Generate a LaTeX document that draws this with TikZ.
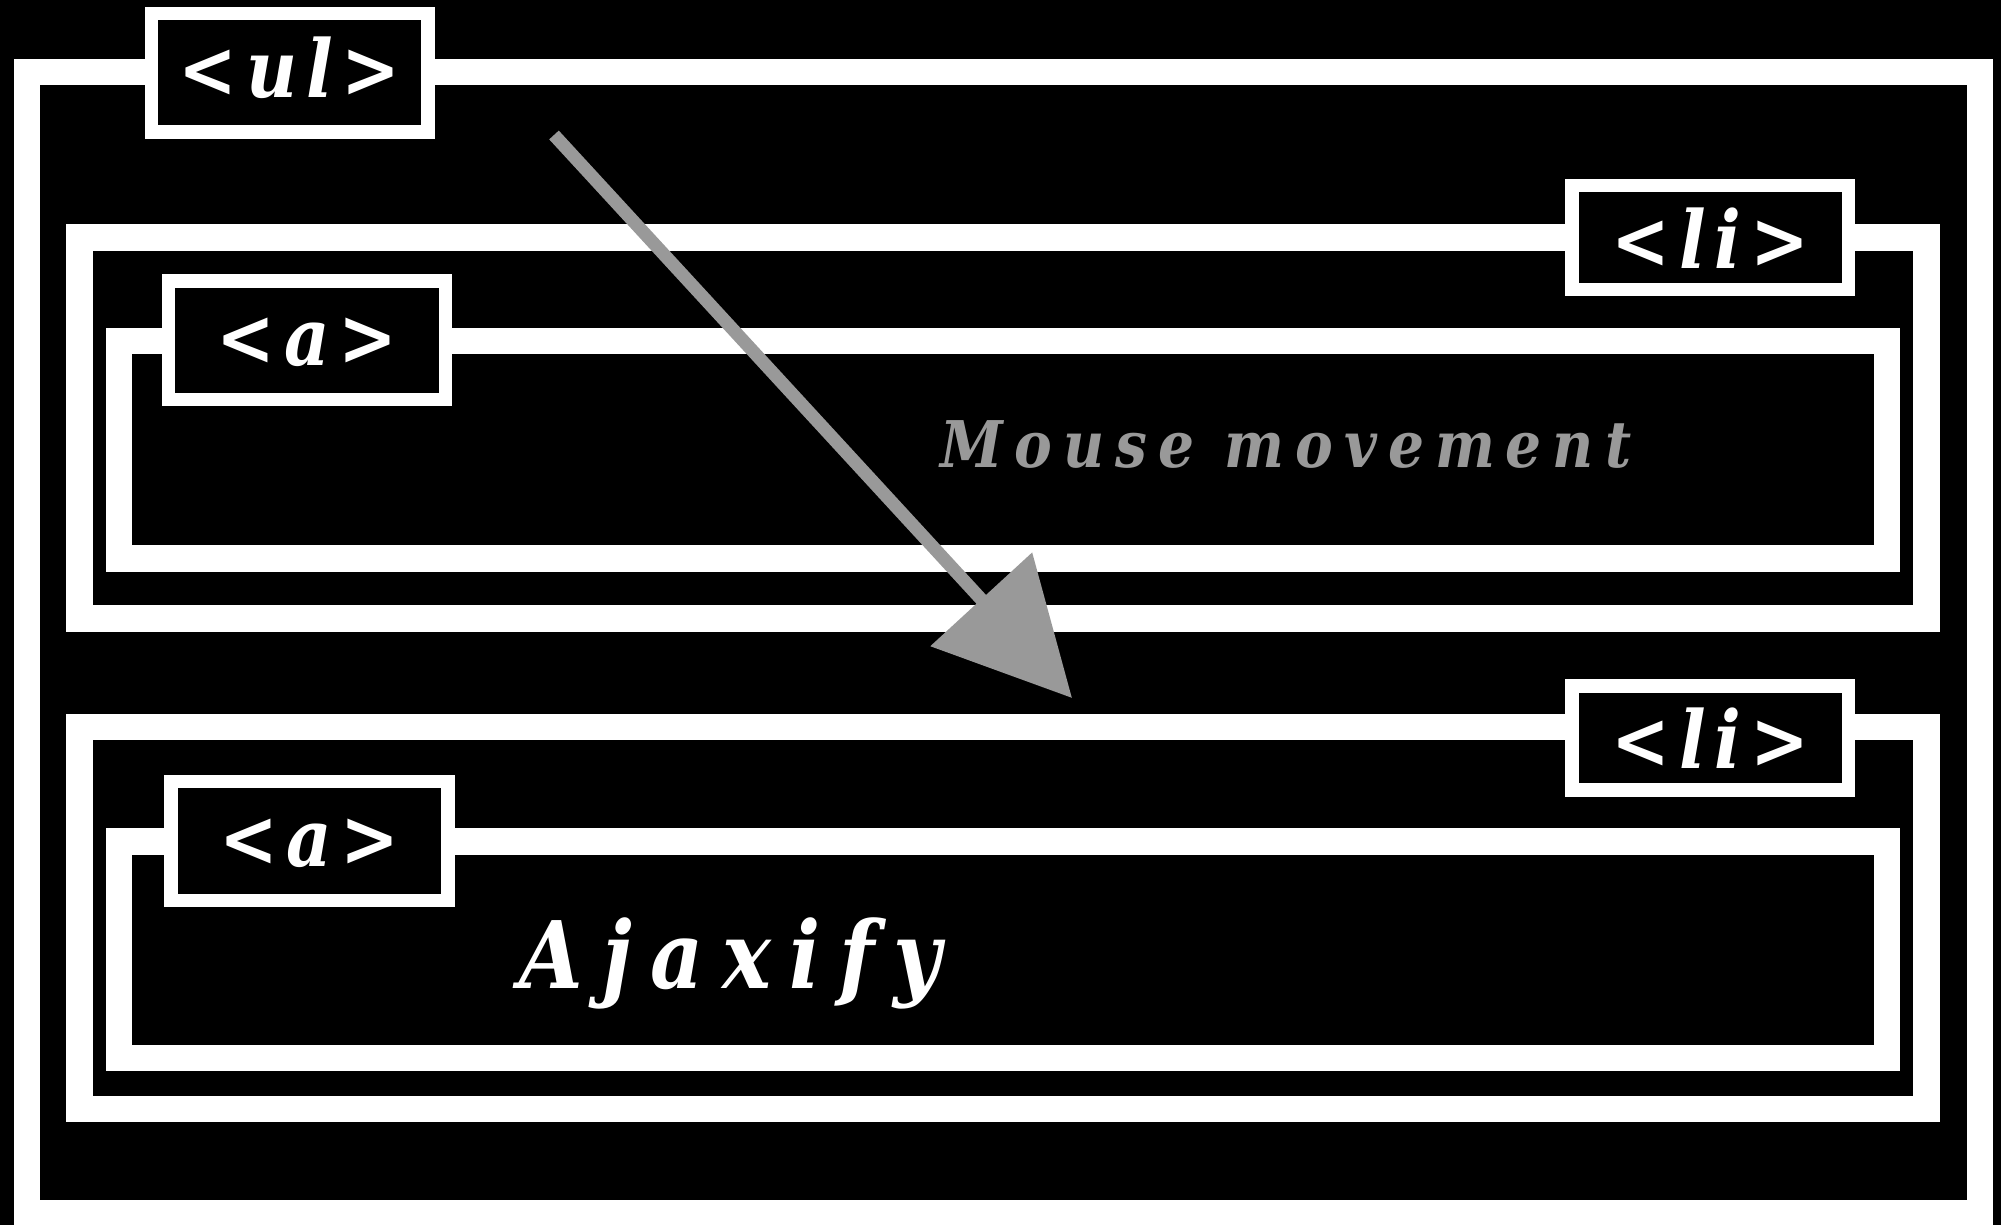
\documentclass[tikz,border=0pt]{standalone}
\usepackage{fontspec}
\usepackage{tikz}
\usetikzlibrary{arrows.meta}
\newfontfamily\tagfont{DejaVu Serif}[FakeStretch=0.88]
\definecolor{arrowgray}{RGB}{153,153,153}

\begin{document}
\begin{tikzpicture}[
    x=0.01cm, y=-0.01cm,
    frame/.style={draw=white, line width=0.265cm},
    tagbox/.style={draw=white, fill=black, line width=0.135cm, inner sep=0pt,
        minimum width=2.765cm, minimum height=1.185cm, text=white,
        font=\tagfont\bfseries\itshape\addfontfeature{LetterSpace=11}\fontsize{22.7pt}{27pt}\selectfont,
        text height=0.5cm, text depth=0pt},
    libox/.style={tagbox, minimum height=1.035cm, text height=0.61cm},
    arrow/.style={line width=0.13cm, arrowgray, -{Triangle[length=1.34cm, width=1.35cm]}}
]

\useasboundingbox (0,0) rectangle (2001,1225);
\fill[black] (0,0) rectangle (2001,1225);

% nested boxes
\draw[frame] (27,72) rectangle (1980,1213);
\draw[frame] (79.5,237.5) rectangle (1926.5,618.5);
\draw[frame] (119,341) rectangle (1887,558.5);
\draw[frame] (79.5,727) rectangle (1926.5,1109);
\draw[frame] (119,841.5) rectangle (1887,1058);

% tags
\node[tagbox] (ul) at (289.75,72.75) {<ul>};
\node[libox] (li1) at (1710.25,237.5) {<li>};
\node[tagbox] (a1) at (307,340.25) {<a>};
\node[libox] (li2) at (1710.25,738) {<li>};
\node[tagbox] (a2) at (309.5,841) {<a>};

\node[anchor=base, text=arrowgray, font=\tagfont\bfseries\itshape\addfontfeature{LetterSpace=17}\fontsize{18.3pt}{22pt}\selectfont] (mouse) at (1286,468) {Mouse movement};
\node[anchor=base, text=white, font=\tagfont\bfseries\itshape\addfontfeature{LetterSpace=20}\fontsize{26.5pt}{32pt}\selectfont] (ajax) at (730.5,988) {Ajaxify};

\coordinate (start) at (554,135);
\coordinate (tip) at (1072,698);
\draw[arrow] (start) -- (tip);

\end{tikzpicture}
\end{document}
